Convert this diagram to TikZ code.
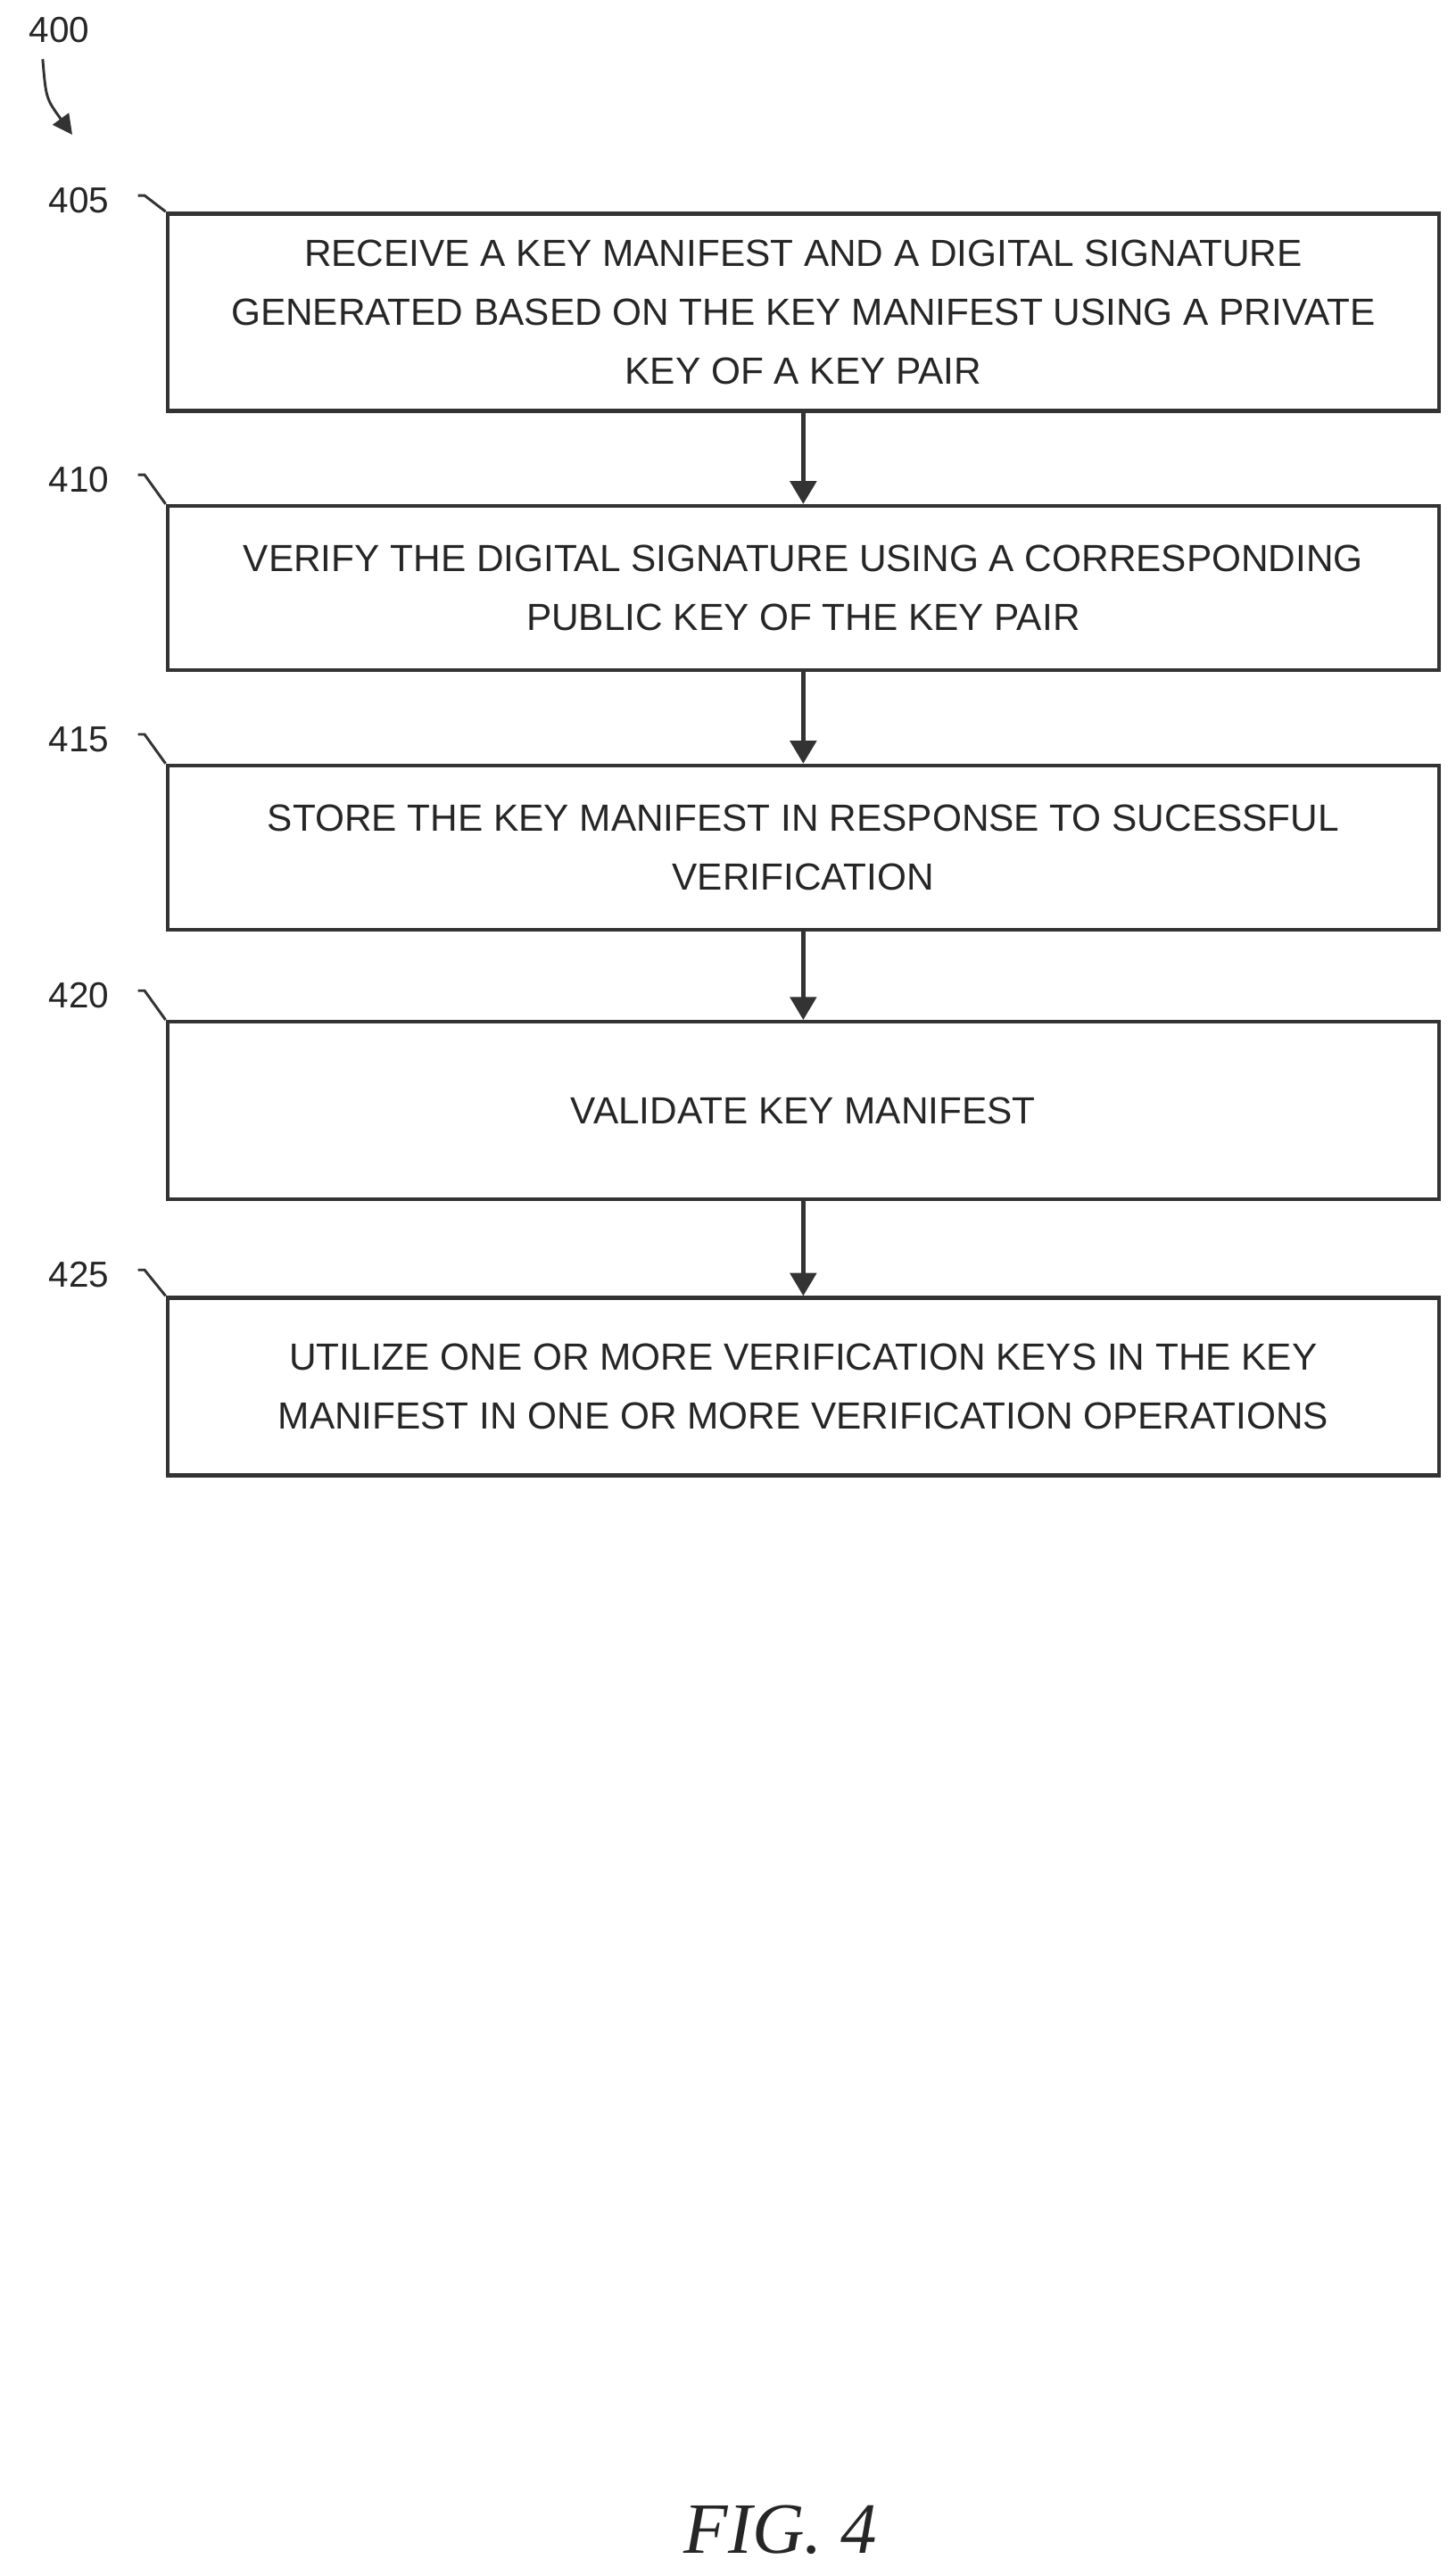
\documentclass[tikz,border=0pt]{standalone}
\usepackage{fontspec}
\setmainfont{Liberation Sans}
\newfontfamily\figfont{Liberation Serif}
\usetikzlibrary{arrows.meta}
\tikzset{
    stepbox/.style={draw=black!80, line width=2.4pt, align=center, inner sep=0pt,
        font={\fontsize{23}{36}\selectfont}, text=black!85},
    reflabel/.style={font={\fontsize{22}{26}\selectfont}, text=black!85},
    flowarrow/.style={draw=black!80, line width=2.4pt, -{Triangle[length=14pt,width=16pt]}},
}
\begin{document}
\begin{tikzpicture}[x=1pt,y=-1pt]
    \useasboundingbox (0,0) rectangle (886,1568);
    % steps
    \node[stepbox, minimum width=774pt, minimum height=120pt] (s405) at (489,190) {RECEIVE A KEY MANIFEST AND A DIGITAL SIGNATURE\\GENERATED BASED ON THE KEY MANIFEST USING A PRIVATE\\KEY OF A KEY PAIR};
    \node[stepbox, minimum width=774pt, minimum height=100pt] (s410) at (489,358) {VERIFY THE DIGITAL SIGNATURE USING A CORRESPONDING\\PUBLIC KEY OF THE KEY PAIR};
    \node[stepbox, minimum width=774pt, minimum height=100pt] (s415) at (489,516) {STORE THE KEY MANIFEST IN RESPONSE TO SUCESSFUL\\VERIFICATION};
    \node[stepbox, minimum width=774pt, minimum height=108pt] (s420) at (489,676) {VALIDATE KEY MANIFEST};
    \node[stepbox, minimum width=774pt, minimum height=108pt] (s425) at (489,844) {UTILIZE ONE OR MORE VERIFICATION KEYS IN THE KEY\\MANIFEST IN ONE OR MORE VERIFICATION OPERATIONS};
    % connectors
    \draw[flowarrow] (s405.south) -- (s410.north);
    \draw[flowarrow] (s410.south) -- (s415.north);
    \draw[flowarrow] (s415.south) -- (s420.north);
    \draw[flowarrow] (s420.south) -- (s425.north);
    % reference numerals
    \foreach \n/\y/\b in {405/122/s405, 410/292/s410, 415/450/s415, 420/606/s420, 425/776/s425} {
        \node[reflabel] (l\n) at (48,\y) {\n};
        \draw[black!80, line width=1.6pt] (84,\y-3) -- (88,\y-3) -- (\b.north west);
    }
    \node[reflabel] (l400) at (36,18) {400};
    \coordinate (a400) at (44,82);
    \draw[black!80, line width=1.6pt, -{Triangle[length=12pt,width=12pt]}] (26,36) .. controls (28,60) .. (a400);
    % figure caption
    \node[font={\figfont\itshape\fontsize{44}{50}\selectfont}, text=black!85] (fig) at (475,1540) {FIG. 4};
\end{tikzpicture}
\end{document}
